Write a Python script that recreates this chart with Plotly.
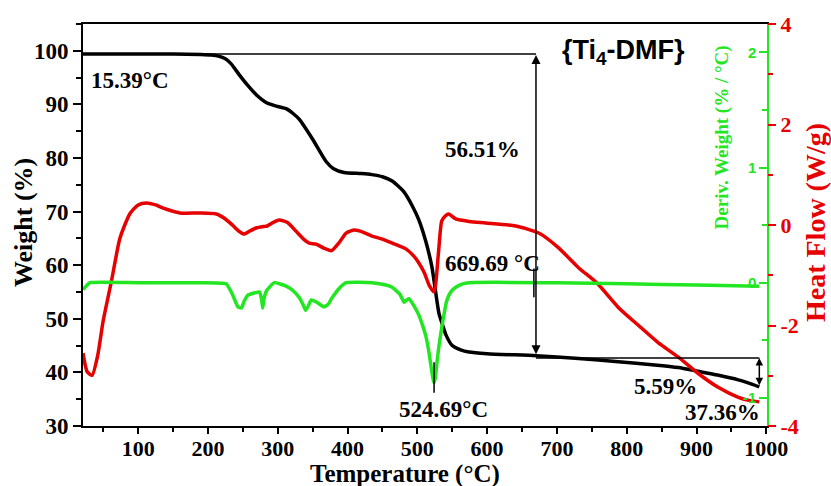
import plotly.graph_objects as go

# ---------------- data ----------------
tga_temp = [21, 100, 150, 190, 205, 215, 225, 233, 240, 248, 258, 270, 284, 300, 312, 322, 331,
            350, 369, 380, 395, 420, 435, 450, 464, 480, 493, 502, 512, 521, 531, 537, 541, 550,
            562, 574, 600, 670, 731, 788, 840, 874, 902, 930, 960, 975, 990]
tga_weight = [99.4, 99.4, 99.4, 99.3, 99.2, 99.0, 98.5, 97.6, 96.4, 95.0, 93.4, 91.7, 90.3, 89.6,
              89.2, 88.3, 87.2, 83.5, 79.4, 78.0, 77.3, 77.1, 76.9, 76.5, 75.7, 73.8, 71.0, 68.5,
              64.5, 59.6, 51.0, 48.5, 47.0, 45.0, 44.2, 43.8, 43.5, 43.1, 42.6, 42.0, 41.4, 40.9,
              40.2, 39.5, 38.6, 38.0, 37.3]

dsc_temp = [21, 27, 34, 42, 50, 62, 74, 88, 100, 112, 125, 135, 160, 188, 212, 225, 235, 245,
            252, 260, 269, 280, 285, 292, 302, 314, 326, 337, 345, 355, 366, 377, 388, 398, 410,
            422, 435, 450, 464, 484, 495, 502, 510, 517, 524, 530, 535, 540, 545, 555, 575, 598,
            641, 674, 702, 731, 757, 788, 817, 845, 874, 902, 931, 960, 975, 990]
dsc_heat = [-2.55, -2.92, -2.99, -2.6, -1.9, -1.1, -0.26, 0.22, 0.4, 0.44, 0.4, 0.34, 0.24, 0.24,
            0.22, 0.12, 0.0, -0.13, -0.18, -0.12, -0.06, -0.03, -0.02, 0.04, 0.10, 0.05, -0.12,
            -0.28, -0.36, -0.38, -0.46, -0.51, -0.35, -0.16, -0.10, -0.14, -0.22, -0.28, -0.36,
            -0.48, -0.62, -0.75, -0.95, -1.2, -1.33, -0.6, 0.08, 0.18, 0.22, 0.12, 0.07, 0.04,
            -0.02, -0.16, -0.45, -0.85, -1.15, -1.64, -2.0, -2.34, -2.63, -2.95, -3.23, -3.43,
            -3.49, -3.52]

dtg_temp = [21, 27, 31, 100, 188, 226, 235, 243, 248, 252, 257, 266, 274, 277, 278.5, 280, 284,
            295, 312, 322, 331, 337, 340, 344, 348, 356, 366, 372, 378, 388, 398, 435, 455, 464,
            475, 481, 485, 488, 495, 502, 508, 512, 516, 519, 522, 524, 526, 528, 531, 535, 539,
            542, 548, 555, 565, 574, 700, 800, 900, 990]
dtg_deriv = [-0.06, -0.02, 0.0, 0.0, 0.0, -0.01, -0.1, -0.21, -0.22, -0.16, -0.11, -0.09, -0.08,
             -0.15, -0.22, -0.15, -0.07, 0.0, -0.03, -0.07, -0.13, -0.2, -0.24, -0.2, -0.15,
             -0.17, -0.21, -0.19, -0.13, -0.05, 0.0, 0.0, -0.02, -0.04, -0.1, -0.17, -0.15, -0.14,
             -0.2, -0.28, -0.38, -0.46, -0.58, -0.7, -0.82, -0.87, -0.82, -0.7, -0.55, -0.39,
             -0.25, -0.16, -0.08, -0.04, -0.01, 0.0, 0.0, -0.01, -0.02, -0.03]

x_ticks = [100, 200, 300, 400, 500, 600, 700, 800, 900, 1000]
w_ticks = [30, 40, 50, 60, 70, 80, 90, 100]
hf_ticks = [-4, -2, 0, 2, 4]
hf_labels = ["-4", "-2", "0", "2", "4"]
dw_ticks = [-1, 0, 1, 2]
dw_labels = ["-1", "0", "1", "2"]

# annotation values
start_weight, mid_weight, end_weight = 99.4, 42.7, 37.3
mark_temp, peak_temp, end_temp = 670, 524, 990

# ---------------- styling ----------------
SERIF = "Liberation Serif, Times New Roman, serif"
SANS = "Liberation Sans, Arial, sans-serif"
BLACK, RED, GREEN = "#000000", "#e60000", "#22e622"

fig = go.Figure()
fig.add_trace(go.Scatter(x=tga_temp, y=tga_weight, mode="lines", yaxis="y",
                         line=dict(color=BLACK, width=3.5, shape="spline", smoothing=0.6)))
fig.add_trace(go.Scatter(x=dsc_temp, y=dsc_heat, mode="lines", yaxis="y2",
                         line=dict(color=RED, width=3.5, shape="spline", smoothing=0.6)))
fig.add_trace(go.Scatter(x=dtg_temp, y=dtg_deriv, mode="lines", yaxis="y3",
                         line=dict(color=GREEN, width=3.5, shape="spline", smoothing=0.4)))

tickfont = dict(family=SERIF, size=23, color=BLACK, weight="bold")

fig.update_layout(
    width=831, height=486,
    margin=dict(l=83, r=64, t=22, b=60),
    plot_bgcolor="white", paper_bgcolor="white",
    showlegend=False,
    xaxis=dict(range=[21, 1001], tickvals=x_ticks, ticks="outside", ticklen=6, tickwidth=2,
               tickcolor=BLACK, showline=True, linecolor=BLACK, linewidth=2, mirror=True,
               showgrid=False, zeroline=False, tickfont=dict(family=SERIF, size=22, color=BLACK, weight="bold"),
               ticklabelstandoff=-4, ticklabeloverflow="allow",
               minor=dict(dtick=50, tick0=0, ticks="outside", ticklen=4, tickcolor=BLACK, tickwidth=1.5)),
    yaxis=dict(range=[30, 105], tickvals=w_ticks, ticks="outside", ticklen=8, tickwidth=2,
               tickcolor=BLACK, showline=True, linecolor=BLACK, linewidth=2, mirror=False,
               showgrid=False, zeroline=False, tickfont=tickfont,
               minor=dict(dtick=5, tick0=0, ticks="outside", ticklen=5, tickcolor=BLACK, tickwidth=1.5)),
    yaxis2=dict(range=[-4, 4], overlaying="y", side="right", anchor="x",
                tickvals=hf_ticks, ticktext=hf_labels, ticks="outside", ticklen=8, tickwidth=2,
                tickcolor=RED, showline=False, showgrid=False, zeroline=False,
                tickfont=dict(family=SERIF, size=22, color=RED, weight="bold"),
                minor=dict(dtick=1, tick0=0, ticks="outside", ticklen=5, tickcolor=RED, tickwidth=1.5)),
    yaxis3=dict(range=[-1.245, 2.247], overlaying="y", side="right", anchor="x",
                tickvals=dw_ticks, ticks="inside", ticklen=8, tickwidth=2,
                tickcolor=GREEN, showline=True, linecolor=GREEN, linewidth=2,
                showticklabels=False, showgrid=False, zeroline=False,
                minor=dict(dtick=0.5, tick0=0, ticks="inside", ticklen=5, tickcolor=GREEN, tickwidth=1.5)),
)

# green (derivative) tick labels, drawn inside the plot next to the right axis
for v, t in zip(dw_ticks, dw_labels):
    fig.add_annotation(x=1, y=v, xref="paper", yref="y3", text=t, showarrow=False,
                       xanchor="right", yanchor="middle", xshift=-9,
                       font=dict(family=SANS, size=15, color=GREEN, weight="bold"))

# ---------------- reference lines / arrows ----------------
line_style = dict(color=BLACK, width=1.5)
fig.add_shape(type="line", xref="x", yref="y", x0=21, x1=mark_temp, y0=start_weight, y1=start_weight, line=line_style)
fig.add_shape(type="line", xref="x", yref="y", x0=mark_temp, x1=end_temp, y0=mid_weight, y1=mid_weight, line=line_style)
fig.add_shape(type="line", xref="x", yref="y", x0=mark_temp - 3, x1=mark_temp - 3, y0=54.0, y1=59.4, line=line_style)
fig.add_shape(type="line", xref="x", yref="y", x0=peak_temp, x1=peak_temp, y0=36.2, y1=41.9, line=line_style)

fig.add_annotation(x=mark_temp, y=start_weight - 0.2, ax=mark_temp, ay=mid_weight + 0.4,
                   xref="x", yref="y", axref="x", ayref="y", showarrow=True, text="",
                   arrowhead=2, startarrowhead=2, arrowside="end+start", arrowwidth=1.5,
                   arrowsize=1.2, startarrowsize=1.2, arrowcolor=BLACK)
fig.add_annotation(x=end_temp, y=mid_weight, ax=end_temp, ay=end_weight,
                   xref="x", yref="y", axref="x", ayref="y", showarrow=True, text="",
                   arrowhead=2, startarrowhead=2, arrowside="end+start", arrowwidth=1.5,
                   arrowsize=1.0, startarrowsize=1.0, arrowcolor=BLACK)

# ---------------- text labels ----------------
lab = dict(family=SERIF, size=23, color=BLACK, weight="bold")
def label(text, x, y, xanchor="center", font=lab):
    fig.add_annotation(x=x, y=y, xref="x", yref="y", text=text, showarrow=False,
                       xanchor=xanchor, yanchor="middle", font=font)

label("15.39°C", 30, 94.4, xanchor="left")
label("56.51%", 594, 81.6)
label("669.69 °C", 608, 60.3)
label("524.69°C", 538, 33.0)
label("5.59%", 855, 37.3)
label("37.36%", 937, 32.5)
label("{Ti<sub>4</sub>-DMF}", 795, 99.8,
      font=dict(family=SANS, size=27, color=BLACK, weight="bold"))

# axis titles
PW, PH = 767 - 83, 426 - 22
def px(xp): return (xp - 83) / PW
def py(yp): return (426 - yp) / PH

def title(text, xp, yp, angle, font):
    fig.add_annotation(x=px(xp), y=py(yp), xref="paper", yref="paper", text=text,
                       textangle=angle, showarrow=False, xanchor="center", yanchor="middle",
                       font=font)

title("Temperature (°C)", 405, 474, 0, dict(family=SERIF, size=25, color=BLACK, weight="bold"))
title("Weight (%)", 23, 222, -90, dict(family=SERIF, size=26, color=BLACK, weight="bold"))
title("Deriv. Weight (% / °C)", 722, 136, -90, dict(family=SERIF, size=19, color=GREEN, weight="bold"))
title("Heat Flow (W/g)", 815, 222, -90, dict(family=SERIF, size=28, color=RED, weight="bold"))

fig.write_html("out.html")
